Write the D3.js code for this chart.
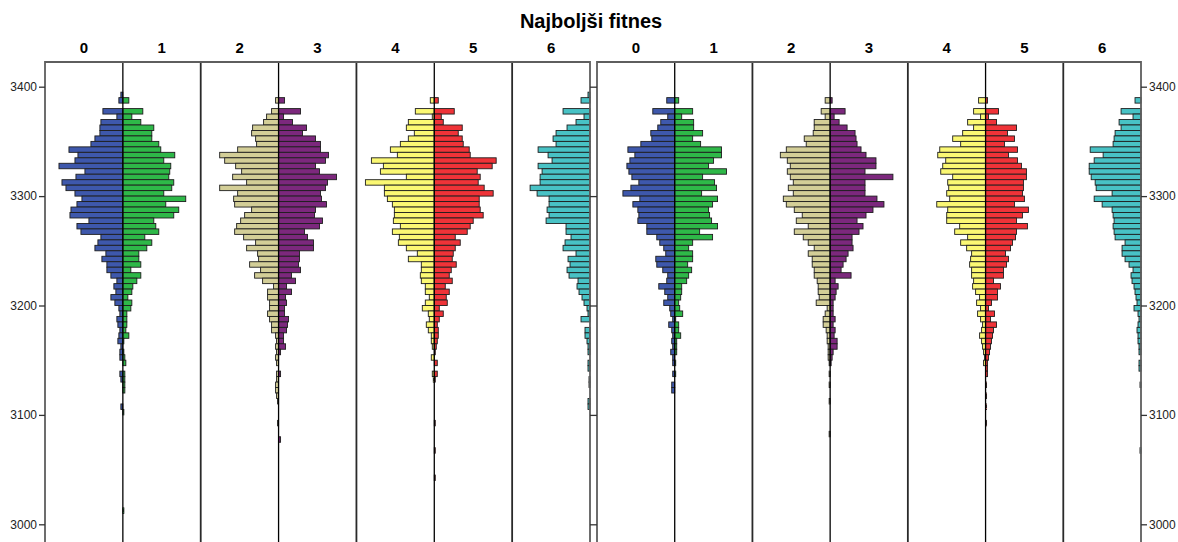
<!DOCTYPE html>
<html><head><meta charset="utf-8">
<script src="https://cdn.jsdelivr.net/npm/d3@7"></script>
<style>html,body{margin:0;padding:0;background:#fff}svg{display:block}</style>
</head><body><svg id="c" width="1178" height="542"></svg>
<script>
// ---- data ----
const title = "Najboljši fitnes";
const categories = ["0","1","2","3","4","5","6"];
const panels = ["left","right"];
const binSize = 5;          // bins of 5 fitness units, counted downward from 3400
const binTopStart = 3400;
const yTicks = [3000, 3100, 3200, 3300, 3400];
const colors = ["#3E58AC","#2EB848","#D3CE97","#7C287D","#FBF873","#EF3338","#48C2C5"];

// frequencies per bin (bin k = [3400-5(k+1), 3400-5k]), left panel
const left0 = [0,2,4,0,20,6,22,23,23,28, 32,54,45,48,64,38,47,61,57,48, 41,46,52,53,34,46,42,22,25,28, 17,21,16,16,12,6,9,7,12,8, 4,3,6,5,3,4,5,2,3,3, 0,0,3,2,0,0,0,0,2];
const left1 = [0,0,6,0,20,9,18,31,29,29, 36,38,52,41,48,47,46,51,49,41, 63,43,56,51,31,33,36,22,29,24, 16,16,18,8,18,14,10,9,5,9, 8,4,4,4,3,6,1,0,1,2, 3,0,2,2,2,2,0,0,0,1, 0,0,0,0,0,0,0,0,0,0, 0,0,0,0,0,0,0,1];
const left2 = [0,0,3,0,7,12,15,26,27,23, 22,41,59,54,43,37,46,32,59,41, 45,44,27,34,38,42,44,35,23,32, 21,20,29,18,24,16,5,11,11,9, 9,11,9,7,7,3,2,3,2,3, 2,0,2,2,3,3,2,1,0,0, 0,1];
const left3 = [0,0,6,0,22,5,14,28,24,37, 42,42,50,47,37,41,58,49,47,42, 43,48,37,36,44,41,26,29,35,35, 21,21,20,22,13,17,8,13,7,8, 6,6,10,9,8,5,5,7,2,0, 0,0,2,0,0,0,0,0,0,0, 0,0,0,0,2];
const left4 = [0,0,4,0,19,2,26,28,20,26, 34,44,37,63,51,54,28,69,50,50, 47,42,40,40,41,34,42,35,36,28, 17,26,13,13,14,13,9,9,5,9, 12,6,5,8,6,3,3,2,0,3, 0,0,2,1];
const left5 = [0,0,4,0,20,7,9,28,24,28, 29,35,36,62,58,43,46,44,50,59, 45,45,46,49,39,36,33,21,26,21, 19,18,22,17,15,18,11,15,12,13, 5,9,5,3,4,4,3,2,1,0, 3,0,3,1,0,0,0,0,0,0, 0,1,0,0,0,0,1,0,0,0, 0,1];
const left6 = [0,2,9,0,27,6,14,23,34,37, 34,52,42,38,52,48,50,50,60,53, 41,41,43,41,44,24,24,19,25,27, 14,22,20,23,21,12,13,11,8,6, 3,2,9,0,5,5,3,2,2,0, 2,2,0,1,1,0,0,2,2];
// right panel
const right0 = [0,0,8,0,22,7,14,17,24,23, 34,47,40,45,48,46,43,36,44,52, 35,42,37,36,37,28,28,18,15,11, 9,19,18,12,7,8,16,10,7,11, 5,4,2,6,3,2,3,2,4,2, 2,0,2,0,3,3];
const right1 = [0,0,4,0,18,7,19,19,28,18, 26,47,47,39,34,52,28,40,42,27, 43,38,34,35,37,43,25,38,18,14, 18,18,13,17,14,12,7,7,6,4, 5,8,1,4,4,6,2,2,2,0, 1,0,1];
const right2 = [0,0,5,0,9,5,16,16,17,26, 24,44,50,43,40,43,40,37,42,37, 47,44,36,28,34,22,36,27,22,16, 22,18,18,16,16,13,12,12,11,14, 3,5,7,7,4,3,3,2,2,2, 1,0,1,0,1,0,0,1,0,0, 0,0,0,1];
const right3 = [0,0,2,0,15,4,9,17,25,26, 27,31,36,46,46,35,63,35,35,35, 47,54,43,36,27,33,29,22,22,23, 18,16,13,11,21,5,8,6,5,3, 3,3,5,3,5,4,7,7,3,2, 1];
const right4 = [0,0,7,0,12,5,18,12,23,33, 25,46,48,40,43,45,33,38,37,39, 36,49,38,39,39,26,31,18,25,19, 14,15,16,14,14,12,13,10,6,9, 5,8,5,3,4,6,4,3,2,1, 2];
const right5 = [0,0,2,0,13,3,11,31,22,29, 19,32,23,32,36,41,41,38,38,37, 39,29,43,37,31,42,31,30,27,25, 20,23,21,18,18,8,15,12,12,6, 3,9,5,11,8,7,6,5,4,3, 2,2,2,0,1,0,1,0,1,0, 0,1];
const right6 = [0,0,6,0,20,8,22,20,26,27, 28,51,38,47,52,52,50,46,45,29, 47,39,29,28,27,28,27,26,16,19, 19,16,12,8,10,9,7,6,5,4, 7,3,2,3,4,3,3,2,2,0, 2,2,0,0,1,0,0,0,0,0, 0,0,0,0,0,0,1];

const seriesByPanel = {
  left:  [left0,left1,left2,left3,left4,left5,left6],
  right: [right0,right1,right2,right3,right4,right5,right6]
};

// ---- layout ----
const svg = d3.select("#c");
const FONT = "Arial, 'Liberation Sans', sans-serif";
const plotTop = 62, plotBottom = 545;
const panelX = { left: [45, 590], right: [597, 1141] };
const y = d3.scaleLinear().domain([3000, 3400]).range([524.3, 86.7]);

svg.append("text").attr("x", 591).attr("y", 28).attr("text-anchor","middle")
  .attr("font-family", FONT).attr("font-weight","bold").attr("font-size", 20)
  .attr("fill","#000").text(title);

panels.forEach(p => {
  const [x0, x1] = panelX[p];
  const x = d3.scaleLinear().domain([0, categories.length]).range([x0, x1]);
  const half = (x1 - x0) / categories.length;
  const w = d3.scaleLinear().domain([0, 78]).range([0, half]);
  const g = svg.append("g");

  // bars
  seriesByPanel[p].forEach((vals, c) => {
    const goesLeft = c % 2 === 0;
    const base = goesLeft ? x(c + 1) : x(c);
    const data = vals.map((v, k) => ({v, k})).filter(d => d.v > 0);
    g.append("g").selectAll("rect").data(data).join("rect")
      .attr("x", d => goesLeft ? base - w(d.v) : base)
      .attr("width", d => w(d.v))
      .attr("y", d => y(binTopStart - binSize * d.k))
      .attr("height", d => y(binTopStart - binSize * (d.k + 1)) - y(binTopStart - binSize * d.k))
      .attr("fill", colors[c])
      .attr("stroke", "#1e1e1e").attr("stroke-width", 0.9);
  });

  // separators between pairs
  [2, 4, 6].forEach(i => {
    g.append("line").attr("x1", x(i)).attr("x2", x(i)).attr("y1", plotTop).attr("y2", plotBottom)
      .attr("stroke", "#2a2a2a").attr("stroke-width", 1.8);
  });
  // pair centre lines
  [1, 3, 5].forEach(i => {
    g.append("line").attr("x1", x(i)).attr("x2", x(i)).attr("y1", plotTop).attr("y2", plotBottom)
      .attr("stroke", "#000").attr("stroke-width", 1.3);
  });
  // frame
  g.append("path").attr("d", `M${x0},${plotBottom}V${plotTop}H${x1}V${plotBottom}`)
    .attr("fill","none").attr("stroke","#5e5e5e").attr("stroke-width", 1.8);

  // category labels
  categories.forEach((cat, c) => {
    svg.append("text").attr("x", x(c + 0.5)).attr("y", 53).attr("text-anchor","middle")
      .attr("font-family", FONT).attr("font-weight","bold").attr("font-size", 15)
      .attr("fill","#000").text(cat);
  });
});

// y axes
const axL = d3.axisLeft(y).tickValues(yTicks).tickSize(6).tickPadding(2).tickFormat(d3.format("d"));
const axR = d3.axisRight(y).tickValues(yTicks).tickSize(6).tickPadding(2).tickFormat(d3.format("d"));
const axM = d3.axisRight(y).tickValues(yTicks).tickSize(7).tickFormat("");
function styleAxis(sel) {
  sel.select(".domain").remove();
  sel.selectAll("line").attr("stroke","#333").attr("stroke-width",1.3);
  sel.selectAll("text").attr("font-family", FONT).attr("font-size", 12).attr("fill","#222");
}
svg.append("g").attr("transform","translate(45,0)").call(axL).call(styleAxis);
svg.append("g").attr("transform","translate(1141,0)").call(axR).call(styleAxis);
svg.append("g").attr("transform","translate(590,0)").call(axM).call(styleAxis);
</script></body></html>
